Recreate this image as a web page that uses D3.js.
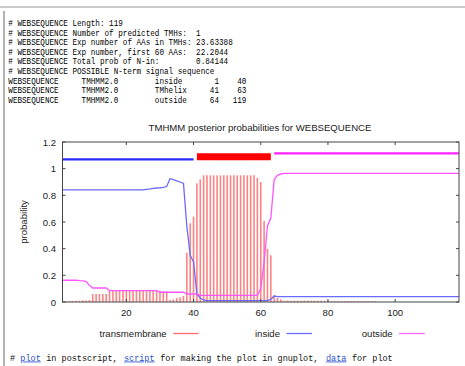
<!DOCTYPE html>
<html>
<head>
<meta charset="utf-8">
<script src="https://cdn.jsdelivr.net/npm/d3@7/dist/d3.min.js"></script>
<style>
  html, body { margin: 0; padding: 0; background: #fff; }
  svg { display: block; }
</style>
</head>
<body>
<svg id="chart" width="465" height="366"></svg>
<script>
const headerLines = [
  "# WEBSEQUENCE Length: 119",
  "# WEBSEQUENCE Number of predicted TMHs:  1",
  "# WEBSEQUENCE Exp number of AAs in TMHs: 23.63388",
  "# WEBSEQUENCE Exp number, first 60 AAs:  22.2044",
  "# WEBSEQUENCE Total prob of N-in:        0.84144",
  "# WEBSEQUENCE POSSIBLE N-term signal sequence",
  "WEBSEQUENCE     TMHMM2.0        inside       1    40",
  "WEBSEQUENCE     TMHMM2.0        TMhelix     41    63",
  "WEBSEQUENCE     TMHMM2.0        outside     64   119"
];

const seqLength = 119;

// topology segments (residue ranges)
const segStart = [1, 41, 64];
const segEnd = [40, 63, 119];
const segName = ["inside", "transmembrane", "outside"];

// posterior probabilities per residue 1..119
const tmProb = [
  0, 0.003, 0.005, 0.008, 0.01, 0.01, 0.012, 0.012, 0.015,
  0.06, 0.06, 0.06, 0.06, 0.06,
  0.085, 0.085, 0.085, 0.085, 0.085, 0.085, 0.085, 0.085,
  0.085, 0.085, 0.085, 0.085, 0.085, 0.085, 0.085, 0.085,
  0.077, 0.077,
  0.015, 0.02, 0.03, 0.035, 0.045,
  0.37, 0.59, 0.64, 0.89, 0.92,
  0.95, 0.95, 0.95, 0.95, 0.95, 0.95, 0.95, 0.95,
  0.95, 0.95, 0.95, 0.95, 0.95, 0.95, 0.95, 0.95,
  0.93, 0.90, 0.61, 0.40, 0.35,
  0.05, 0.03, 0.02,
  0.01, 0.01, 0.01, 0.01, 0.01, 0.01, 0.01, 0.01, 0.01, 0.01, 0.01, 0.01, 0.01, 0.01,
  0.005, 0.005, 0.005, 0.005, 0.005, 0.005, 0.005, 0.005, 0.005, 0.005, 0.005, 0.005, 0.005, 0.005,
  0, 0, 0, 0, 0, 0, 0, 0, 0, 0, 0, 0, 0, 0, 0, 0, 0, 0, 0, 0, 0, 0, 0, 0, 0
];

const insideProb = [
  0.841, 0.841, 0.841, 0.841, 0.841, 0.841, 0.841, 0.841, 0.841, 0.841,
  0.841, 0.841, 0.841, 0.841, 0.841, 0.841, 0.841, 0.841, 0.841, 0.841,
  0.841, 0.841, 0.841, 0.841, 0.841,
  0.845, 0.848, 0.852, 0.855, 0.857, 0.86, 0.866,
  0.925, 0.918, 0.908, 0.90, 0.89,
  0.57, 0.35, 0.30, 0.06, 0.03,
  0.015,
  0.01, 0.01, 0.01, 0.01, 0.01, 0.01, 0.01, 0.01, 0.01, 0.01,
  0.01, 0.01, 0.01, 0.01, 0.01, 0.01, 0.01, 0.01, 0.01,
  0.02, 0.045,
  0.04, 0.04, 0.04, 0.04, 0.04, 0.04, 0.04, 0.04, 0.04, 0.04, 0.04,
  0.04, 0.04, 0.04, 0.04, 0.04, 0.04, 0.04, 0.04, 0.04, 0.04, 0.04,
  0.04, 0.04, 0.04, 0.04, 0.04, 0.04, 0.04, 0.04, 0.04, 0.04, 0.04,
  0.04, 0.04, 0.04, 0.04, 0.04, 0.04, 0.04, 0.04, 0.04, 0.04, 0.04,
  0.04, 0.04, 0.04, 0.04, 0.04, 0.04, 0.04, 0.04, 0.04, 0.04, 0.04
];

const outsideProb = [
  0.163, 0.163, 0.163, 0.163, 0.163, 0.16, 0.158, 0.155, 0.125,
  0.105, 0.105, 0.105, 0.105, 0.105,
  0.085, 0.085, 0.085, 0.085, 0.085, 0.085, 0.085, 0.085,
  0.085, 0.085, 0.085, 0.085, 0.085, 0.085, 0.085,
  0.073, 0.073, 0.073, 0.073, 0.073, 0.073, 0.073, 0.073,
  0.06, 0.06, 0.06, 0.06,
  0.05, 0.05, 0.05, 0.05, 0.05, 0.05, 0.05, 0.05, 0.05,
  0.05, 0.05, 0.05, 0.05, 0.05, 0.05, 0.05, 0.05, 0.05,
  0.1, 0.3, 0.57, 0.63, 0.92, 0.95, 0.96,
  0.965, 0.965, 0.965, 0.965, 0.965, 0.965, 0.965, 0.965, 0.965, 0.965,
  0.965, 0.965, 0.965, 0.965, 0.965, 0.965, 0.965, 0.965, 0.965, 0.965,
  0.965, 0.965, 0.965, 0.965, 0.965, 0.965, 0.965, 0.965, 0.965, 0.965,
  0.965, 0.965, 0.965, 0.965, 0.965, 0.965, 0.965, 0.965, 0.965, 0.965,
  0.965, 0.965, 0.965, 0.965, 0.965, 0.965, 0.965, 0.965, 0.965, 0.965,
  0.965, 0.965, 0.965
];

const xTicks = [20, 40, 60, 80, 100];
const yTicks = [0, 0.2, 0.4, 0.6, 0.8, 1, 1.2];
const legendLabels = ["transmembrane", "inside", "outside"];

// --- layout ---
const svg = d3.select("#chart");
const plot = { left: 62.5, right: 459, top: 142, bottom: 302 };

const x = d3.scaleLinear().domain([1, seqLength]).range([plot.left, plot.right]);
const y = d3.scaleLinear().domain([0, 1.2]).range([plot.bottom, plot.top]);

const residues = d3.range(1, seqLength + 1);

// page chrome
svg.append("line").attr("x1", 0).attr("x2", 465).attr("y1", 7).attr("y2", 7)
  .attr("stroke", "#b8b8b8").attr("stroke-width", 1.5);
svg.append("line").attr("x1", 4).attr("x2", 4).attr("y1", 11).attr("y2", 366)
  .attr("stroke", "#999").attr("stroke-width", 1.5);

// header text (monospace, narrow like SimSun)
const mono = "'Liberation Mono', 'DejaVu Sans Mono', monospace";
svg.append("g").selectAll("text")
  .data(headerLines)
  .join("text")
  .attr("x", 8.3)
  .attr("y", (d, i) => 26 + i * 9.6)
  .attr("textLength", d => d.length * 4.58)
  .attr("lengthAdjust", "spacingAndGlyphs")
  .style("white-space", "pre")
  .style("font-family", mono)
  .style("font-size", "8.8px")
  .style("fill", "#000")
  .text(d => d);

// title
svg.append("text")
  .attr("x", 260)
  .attr("y", 131)
  .attr("text-anchor", "middle")
  .style("font-family", "'Liberation Sans', Arial, sans-serif")
  .style("font-size", "9.6px")
  .style("fill", "#222")
  .text("TMHMM posterior probabilities for WEBSEQUENCE");

const g = svg.append("g");

// transmembrane impulses
g.selectAll(".bar")
  .data(residues)
  .join("line")
  .attr("class", "bar")
  .attr("x1", d => x(d)).attr("x2", d => x(d))
  .attr("y1", y(0))
  .attr("y2", d => y(tmProb[d - 1]))
  .attr("stroke", "#ff3030")
  .attr("stroke-opacity", 0.6)
  .attr("stroke-width", 1.6);

// inside / outside curves
const line = d3.line().x((d, i) => x(i + 1)).y(d => y(d));
g.append("path").datum(insideProb)
  .attr("fill", "none").attr("stroke", "#6a6aff").attr("stroke-width", 1.3)
  .attr("d", line);
g.append("path").datum(outsideProb)
  .attr("fill", "none").attr("stroke", "#ff55ff").attr("stroke-width", 1.3)
  .attr("d", line);

// predicted topology bars at the top
const segLevel = [1.07, 1.09, 1.115];
const segColor = ["#2a2aff", "#ff0000", "#ff22ff"];
const segWidth = [2.2, 7, 2.2];
g.selectAll(".seg")
  .data(segName)
  .join("line")
  .attr("class", "seg")
  .attr("x1", (d, i) => x(segStart[i]))
  .attr("x2", (d, i) => x(segEnd[i]))
  .attr("y1", (d, i) => y(segLevel[i]))
  .attr("y2", (d, i) => y(segLevel[i]))
  .attr("stroke", (d, i) => segColor[i])
  .attr("stroke-width", (d, i) => segWidth[i]);

// border with inward mirrored ticks
const frame = "#444";
g.append("rect")
  .attr("x", plot.left).attr("y", plot.top)
  .attr("width", plot.right - plot.left).attr("height", plot.bottom - plot.top)
  .attr("fill", "none").attr("stroke", frame).attr("stroke-width", 1);

const axisFont = "'Liberation Sans', Arial, sans-serif";
const tl = 3;
xTicks.forEach(t => {
  g.append("line").attr("x1", x(t)).attr("x2", x(t))
    .attr("y1", plot.bottom).attr("y2", plot.bottom - tl).attr("stroke", frame);
  g.append("line").attr("x1", x(t)).attr("x2", x(t))
    .attr("y1", plot.top).attr("y2", plot.top + tl).attr("stroke", frame);
  g.append("text").attr("x", x(t)).attr("y", 315.5)
    .attr("text-anchor", "middle")
    .style("font-family", axisFont).style("font-size", "9.6px").style("fill", "#222")
    .text(t);
});
yTicks.forEach(t => {
  g.append("line").attr("x1", plot.left).attr("x2", plot.left + tl)
    .attr("y1", y(t)).attr("y2", y(t)).attr("stroke", frame);
  g.append("line").attr("x1", plot.right).attr("x2", plot.right - tl)
    .attr("y1", y(t)).attr("y2", y(t)).attr("stroke", frame);
  g.append("text").attr("x", 56).attr("y", y(t) + 3.5)
    .attr("text-anchor", "end")
    .style("font-family", axisFont).style("font-size", "9.6px").style("fill", "#222")
    .text(d3.format("~g")(t));
});

svg.append("text")
  .attr("transform", `translate(26.5, ${(plot.top + plot.bottom) / 2}) rotate(-90)`)
  .attr("text-anchor", "middle")
  .style("font-family", axisFont).style("font-size", "9.6px").style("fill", "#222")
  .text("probability");

// legend
const legendTextEnd = [166.7, 280, 392.7];
const legendColor = ["#ff6a6a", "#6a6aff", "#ff66ff"];
legendLabels.forEach((lab, i) => {
  svg.append("text").attr("x", legendTextEnd[i]).attr("y", 336.5)
    .attr("text-anchor", "end")
    .style("font-family", axisFont).style("font-size", "9.6px").style("fill", "#222")
    .text(lab);
  svg.append("line")
    .attr("x1", legendTextEnd[i] + 6.5).attr("x2", legendTextEnd[i] + 32)
    .attr("y1", 333.5).attr("y2", 333.5)
    .attr("stroke", legendColor[i]).attr("stroke-width", 1.3);
});

// footer: each piece is its own text, placed by character column
const footerParts = [
  { t: "#", link: false }, { t: "plot", link: true },
  { t: "in postscript,", link: false }, { t: "script", link: true },
  { t: "for making the plot in gnuplot,", link: false }, { t: "data", link: true },
  { t: "for plot", link: false }
];
const footerCharW = 5.18;
let col = 0;
footerParts.forEach(p => {
  svg.append("text")
    .attr("x", 10 + col * footerCharW).attr("y", 360.5)
    .style("font-family", mono)
    .style("font-size", "8.5px")
    .style("fill", p.link ? "#2a4fd6" : "#111")
    .style("text-decoration", p.link ? "underline" : "none")
    .text(p.t);
  col += p.t.length + 1;
});
</script>
</body>
</html>
